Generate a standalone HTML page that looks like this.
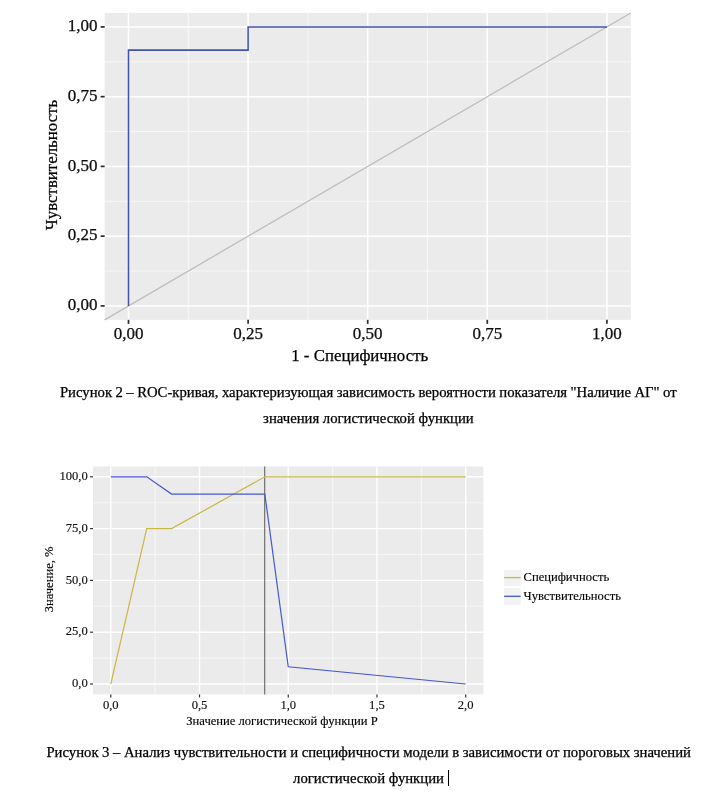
<!DOCTYPE html>
<html lang="ru"><head><meta charset="utf-8"><title>ROC</title>
<style>
html,body{margin:0;padding:0;background:#fff;}
body{width:724px;height:804px;overflow:hidden;position:relative;font-family:"Liberation Serif",serif;}
svg{position:absolute;left:0;top:0;display:block}
text{font-family:"Liberation Serif",serif;stroke:#000;}
.s{stroke-width:0.14px}
.b{stroke-width:0.25px}
.cap{position:absolute;left:0;width:724px;text-align:center;font-size:14.6px;color:#000;white-space:nowrap;line-height:17px;}
</style></head><body>
<svg width="724" height="804" viewBox="0 0 724 804">
<rect x="104.65" y="12.95" width="526.15" height="306.90" fill="#ebebeb"/>
<line x1="188.30" x2="188.30" y1="12.95" y2="319.85" stroke="#f7f7f7" stroke-width="1.15"/>
<line y1="271.02" y2="271.02" x1="104.65" x2="630.8" stroke="#f7f7f7" stroke-width="1.15"/>
<line x1="307.90" x2="307.90" y1="12.95" y2="319.85" stroke="#f7f7f7" stroke-width="1.15"/>
<line y1="201.27" y2="201.27" x1="104.65" x2="630.8" stroke="#f7f7f7" stroke-width="1.15"/>
<line x1="427.50" x2="427.50" y1="12.95" y2="319.85" stroke="#f7f7f7" stroke-width="1.15"/>
<line y1="131.52" y2="131.52" x1="104.65" x2="630.8" stroke="#f7f7f7" stroke-width="1.15"/>
<line x1="547.10" x2="547.10" y1="12.95" y2="319.85" stroke="#f7f7f7" stroke-width="1.15"/>
<line y1="61.77" y2="61.77" x1="104.65" x2="630.8" stroke="#f7f7f7" stroke-width="1.15"/>
<line x1="128.50" x2="128.50" y1="12.95" y2="319.85" stroke="#fff" stroke-width="1.55"/>
<line y1="305.90" y2="305.90" x1="104.65" x2="630.8" stroke="#fff" stroke-width="1.55"/>
<line x1="248.10" x2="248.10" y1="12.95" y2="319.85" stroke="#fff" stroke-width="1.55"/>
<line y1="236.15" y2="236.15" x1="104.65" x2="630.8" stroke="#fff" stroke-width="1.55"/>
<line x1="367.70" x2="367.70" y1="12.95" y2="319.85" stroke="#fff" stroke-width="1.55"/>
<line y1="166.40" y2="166.40" x1="104.65" x2="630.8" stroke="#fff" stroke-width="1.55"/>
<line x1="487.30" x2="487.30" y1="12.95" y2="319.85" stroke="#fff" stroke-width="1.55"/>
<line y1="96.65" y2="96.65" x1="104.65" x2="630.8" stroke="#fff" stroke-width="1.55"/>
<line x1="606.90" x2="606.90" y1="12.95" y2="319.85" stroke="#fff" stroke-width="1.55"/>
<line y1="26.90" y2="26.90" x1="104.65" x2="630.8" stroke="#fff" stroke-width="1.55"/>
<line x1="104.65" y1="319.85" x2="630.8" y2="12.95" stroke="#bebebe" stroke-width="1.3"/>
<polyline fill="none" stroke="#4254aa" stroke-width="1.55" points="128.50,305.90 128.50,50.14 248.10,50.14 248.10,26.90 606.90,26.90"/>
<line x1="100.65" x2="104.65" y1="305.90" y2="305.90" stroke="#2b2b2b" stroke-width="1.7"/>
<line y1="323.85" y2="319.85" x1="128.50" x2="128.50" stroke="#2b2b2b" stroke-width="1.7"/>
<text x="97.5" y="310.05" font-size="17" class="b" text-anchor="end" fill="#111">0,00</text>
<text x="128.50" y="338.7" font-size="17" class="b" text-anchor="middle" fill="#111">0,00</text>
<line x1="100.65" x2="104.65" y1="236.15" y2="236.15" stroke="#2b2b2b" stroke-width="1.7"/>
<line y1="323.85" y2="319.85" x1="248.10" x2="248.10" stroke="#2b2b2b" stroke-width="1.7"/>
<text x="97.5" y="240.30" font-size="17" class="b" text-anchor="end" fill="#111">0,25</text>
<text x="248.10" y="338.7" font-size="17" class="b" text-anchor="middle" fill="#111">0,25</text>
<line x1="100.65" x2="104.65" y1="166.40" y2="166.40" stroke="#2b2b2b" stroke-width="1.7"/>
<line y1="323.85" y2="319.85" x1="367.70" x2="367.70" stroke="#2b2b2b" stroke-width="1.7"/>
<text x="97.5" y="170.55" font-size="17" class="b" text-anchor="end" fill="#111">0,50</text>
<text x="367.70" y="338.7" font-size="17" class="b" text-anchor="middle" fill="#111">0,50</text>
<line x1="100.65" x2="104.65" y1="96.65" y2="96.65" stroke="#2b2b2b" stroke-width="1.7"/>
<line y1="323.85" y2="319.85" x1="487.30" x2="487.30" stroke="#2b2b2b" stroke-width="1.7"/>
<text x="97.5" y="100.80" font-size="17" class="b" text-anchor="end" fill="#111">0,75</text>
<text x="487.30" y="338.7" font-size="17" class="b" text-anchor="middle" fill="#111">0,75</text>
<line x1="100.65" x2="104.65" y1="26.90" y2="26.90" stroke="#2b2b2b" stroke-width="1.7"/>
<line y1="323.85" y2="319.85" x1="606.90" x2="606.90" stroke="#2b2b2b" stroke-width="1.7"/>
<text x="97.5" y="31.05" font-size="17" class="b" text-anchor="end" fill="#111">1,00</text>
<text x="606.90" y="338.7" font-size="17" class="b" text-anchor="middle" fill="#111">1,00</text>
<text x="359.7" y="360.8" font-size="16.85" class="b" text-anchor="middle" fill="#000">1 - Специфичность</text>
<text transform="translate(57.4,165) rotate(-90)" font-size="16.85" class="b" text-anchor="middle" fill="#000">Чувствительность</text>
<rect x="93.05" y="466.4" width="390.40" height="228.00" fill="#ebebeb"/>
<line x1="155.16" x2="155.16" y1="466.4" y2="694.4" stroke="#f6f6f6" stroke-width="1.1"/>
<line x1="243.89" x2="243.89" y1="466.4" y2="694.4" stroke="#f6f6f6" stroke-width="1.1"/>
<line x1="332.61" x2="332.61" y1="466.4" y2="694.4" stroke="#f6f6f6" stroke-width="1.1"/>
<line x1="421.34" x2="421.34" y1="466.4" y2="694.4" stroke="#f6f6f6" stroke-width="1.1"/>
<line y1="658.10" y2="658.10" x1="93.05" x2="483.45" stroke="#f6f6f6" stroke-width="1.1"/>
<line y1="606.30" y2="606.30" x1="93.05" x2="483.45" stroke="#f6f6f6" stroke-width="1.1"/>
<line y1="554.50" y2="554.50" x1="93.05" x2="483.45" stroke="#f6f6f6" stroke-width="1.1"/>
<line y1="502.70" y2="502.70" x1="93.05" x2="483.45" stroke="#f6f6f6" stroke-width="1.1"/>
<line x1="110.80" x2="110.80" y1="466.4" y2="694.4" stroke="#fff" stroke-width="1.4"/>
<line x1="199.52" x2="199.52" y1="466.4" y2="694.4" stroke="#fff" stroke-width="1.4"/>
<line x1="288.25" x2="288.25" y1="466.4" y2="694.4" stroke="#fff" stroke-width="1.4"/>
<line x1="376.97" x2="376.97" y1="466.4" y2="694.4" stroke="#fff" stroke-width="1.4"/>
<line x1="465.70" x2="465.70" y1="466.4" y2="694.4" stroke="#fff" stroke-width="1.4"/>
<line y1="684.00" y2="684.00" x1="93.05" x2="483.45" stroke="#fff" stroke-width="1.4"/>
<line y1="632.20" y2="632.20" x1="93.05" x2="483.45" stroke="#fff" stroke-width="1.4"/>
<line y1="580.40" y2="580.40" x1="93.05" x2="483.45" stroke="#fff" stroke-width="1.4"/>
<line y1="528.60" y2="528.60" x1="93.05" x2="483.45" stroke="#fff" stroke-width="1.4"/>
<line y1="476.80" y2="476.80" x1="93.05" x2="483.45" stroke="#fff" stroke-width="1.4"/>
<line x1="264.7" x2="264.7" y1="466.4" y2="694.4" stroke="#666" stroke-width="1.1"/>
<polyline fill="none" stroke="#c9b845" stroke-width="1.2" points="110.80,684.00 146.73,528.60 171.58,528.60 264.83,476.80 465.70,476.80"/>
<polyline fill="none" stroke="#4658d0" stroke-width="1.2" points="110.80,476.80 146.73,476.80 171.58,494.06 264.83,494.06 288.25,666.74 465.70,684.00"/>
<line x1="90.05" x2="93.05" y1="684.00" y2="684.00" stroke="#333" stroke-width="1.2"/>
<text x="87.8" y="687.10" font-size="12.6" class="s" text-anchor="end" fill="#111">0,0</text>
<line x1="90.05" x2="93.05" y1="632.20" y2="632.20" stroke="#333" stroke-width="1.2"/>
<text x="87.8" y="635.30" font-size="12.6" class="s" text-anchor="end" fill="#111">25,0</text>
<line x1="90.05" x2="93.05" y1="580.40" y2="580.40" stroke="#333" stroke-width="1.2"/>
<text x="87.8" y="583.50" font-size="12.6" class="s" text-anchor="end" fill="#111">50,0</text>
<line x1="90.05" x2="93.05" y1="528.60" y2="528.60" stroke="#333" stroke-width="1.2"/>
<text x="87.8" y="531.70" font-size="12.6" class="s" text-anchor="end" fill="#111">75,0</text>
<line x1="90.05" x2="93.05" y1="476.80" y2="476.80" stroke="#333" stroke-width="1.2"/>
<text x="87.8" y="479.90" font-size="12.6" class="s" text-anchor="end" fill="#111">100,0</text>
<line y1="697.40" y2="694.4" x1="110.80" x2="110.80" stroke="#333" stroke-width="1.2"/>
<text x="110.80" y="709" font-size="12.6" class="s" text-anchor="middle" fill="#111">0,0</text>
<line y1="697.40" y2="694.4" x1="199.52" x2="199.52" stroke="#333" stroke-width="1.2"/>
<text x="199.52" y="709" font-size="12.6" class="s" text-anchor="middle" fill="#111">0,5</text>
<line y1="697.40" y2="694.4" x1="288.25" x2="288.25" stroke="#333" stroke-width="1.2"/>
<text x="288.25" y="709" font-size="12.6" class="s" text-anchor="middle" fill="#111">1,0</text>
<line y1="697.40" y2="694.4" x1="376.97" x2="376.97" stroke="#333" stroke-width="1.2"/>
<text x="376.97" y="709" font-size="12.6" class="s" text-anchor="middle" fill="#111">1,5</text>
<line y1="697.40" y2="694.4" x1="465.70" x2="465.70" stroke="#333" stroke-width="1.2"/>
<text x="465.70" y="709" font-size="12.6" class="s" text-anchor="middle" fill="#111">2,0</text>
<text x="282" y="724.5" font-size="12.6" class="s" text-anchor="middle" fill="#000">Значение логистической функции P</text>
<text transform="translate(53,579.4) rotate(-90)" font-size="12.6" class="s" text-anchor="middle" fill="#000">Значение, %</text>
<rect x="504.1" y="569.8" width="16.6" height="16.3" fill="#f2f2f2"/>
<rect x="504.1" y="588.2" width="16.6" height="16.8" fill="#f2f2f2"/>
<line x1="504.1" x2="520.7" y1="577.6" y2="577.6" stroke="#c9b845" stroke-width="1.3"/>
<line x1="504.1" x2="520.7" y1="596.3" y2="596.3" stroke="#4658d0" stroke-width="1.3"/>
<text x="523.5" y="581" font-size="12.6" class="s" fill="#000">Специфичность</text>
<text x="523.5" y="600.2" font-size="12.6" class="s" fill="#000">Чувствительность</text>
<line x1="448.5" x2="448.5" y1="770" y2="786" stroke="#000" stroke-width="1"/>
<text x="59.9" y="397.1" font-size="14.72" class="b" word-spacing="-0.21" fill="#000">Рисунок 2 – ROC-кривая, характеризующая зависимость вероятности показателя "Наличие АГ" от</text>
<text x="263.1" y="422.8" font-size="14.72" class="b" word-spacing="0" fill="#000">значения логистической функции</text>
<text x="46.4" y="756.7" font-size="14.72" class="b" word-spacing="-0.11" fill="#000">Рисунок 3 – Анализ чувствительности и специфичности модели в зависимости от пороговых значений</text>
<text x="293.1" y="782.6" font-size="14.72" class="b" word-spacing="0" fill="#000">логистической функции</text>
</svg>
</body></html>
